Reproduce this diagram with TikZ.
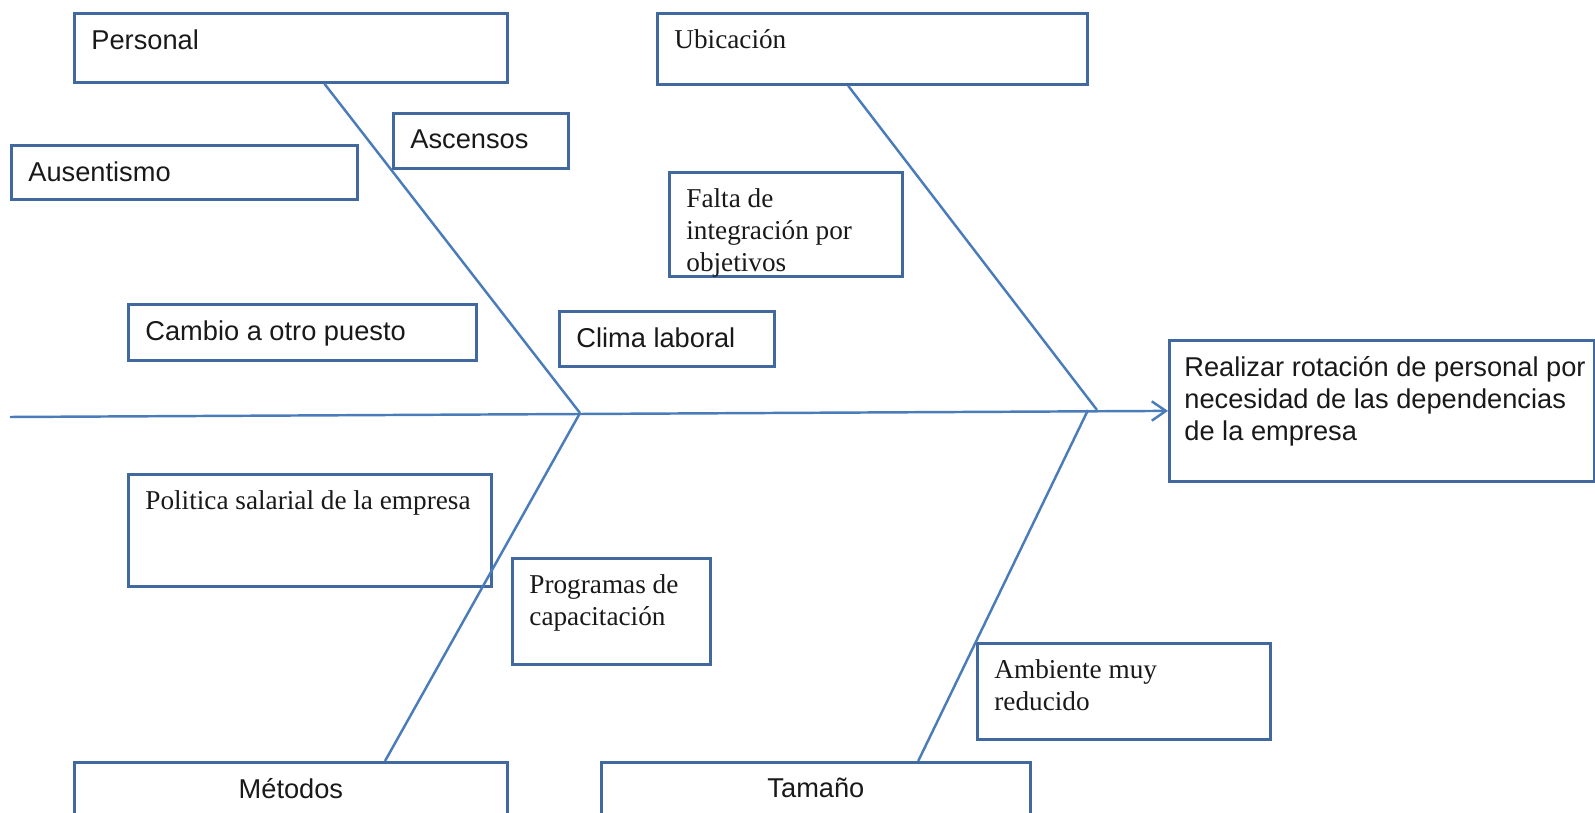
\documentclass[tikz,border=0pt]{standalone}
\usepackage{fontspec}
\setmainfont{Liberation Serif}
\setsansfont{Liberation Sans}
\usetikzlibrary{arrows.meta}
\usetikzlibrary{calc}

\definecolor{bordecaja}{RGB}{66,104,160}
\definecolor{lineaazul}{RGB}{74,124,186}

\newdimen\pix
\pix=0.02cm
% caja de texto: ancho y alto totales en px, texto arriba a la izquierda
\newcommand{\caja}[3]{\parbox[c][\dimexpr#2\pix-32\pix\relax][t]{\dimexpr#1\pix-34\pix\relax}{\raggedright #3}}

\begin{document}
\begin{tikzpicture}[x=0.02cm,y=-0.02cm,
    caja/.style={draw=bordecaja,line width=1.6pt,anchor=north west,inner xsep=0.34cm,inner ysep=0.32cm,text=black!90},
    arial/.style={font=\sffamily\fontsize{15.5}{18.2}\selectfont},
    times/.style={font=\rmfamily\fontsize{15.5}{18.2}\selectfont},
    linea/.style={draw=lineaazul,line width=1.4pt},
    flecha/.style={linea,-{Straight Barb[length=8pt,width=11pt]}}]

\useasboundingbox (0,0) rectangle (1595,813);

% causas
\node[caja,arial] (personal) at (73,12) {\caja{433}{69}{Personal}};
\node[caja,times] (ubicacion) at (656,12) {\caja{430}{71}{Ubicación}};
\node[caja,arial] (ascensos) at (392,112) {\caja{175}{55}{Ascensos}};
\node[caja,arial] (ausentismo) at (10,144) {\caja{346}{54}{Ausentismo}};
\node[caja,times] (falta) at (668,171) {\caja{233}{104}{Falta de\\ integración por\\ objetivos}};
\node[caja,arial] (cambio) at (127,303) {\caja{348}{56}{Cambio a otro puesto}};
\node[caja,arial] (clima) at (558,310) {\caja{215}{55}{Clima laboral}};
\node[caja,times] (politica) at (127,473) {\caja{363}{112}{Politica salarial de la empresa}};
\node[caja,times] (programas) at (511,557) {\caja{198}{106}{Programas de\\ capacitación}};
\node[caja,times] (ambiente) at (976,642) {\caja{293}{96}{Ambiente muy\\ reducido}};
\node[caja,arial] (metodos) at (73,761) {\caja{433}{80}{\centering Métodos}};
\node[caja,arial] (tamano) at (600,761) {\caja{429}{80}{\centering Tamaño}};

% efecto
\node[caja,arial,inner xsep=0.3cm] (efecto) at (1168,339) {\caja{429}{141}{\mbox{Realizar rotación de personal por}\\ \mbox{necesidad de las dependencias}\\ de la empresa}};

% espina y ramas
\coordinate (espina) at (10,417);
\coordinate (uA) at (580,413);
\coordinate (uB) at (1097,410);
\coordinate (uC) at (1088,410);

\draw[flecha] (espina) -- (efecto.west);
\draw[linea] ($(personal.south west)!.577!(personal.south east)$) -- (uA);
\draw[linea] (uA) -- ($(metodos.north west)!.716!(metodos.north east)$);
\draw[linea] ($(ubicacion.south west)!.444!(ubicacion.south east)$) -- (uB);
\draw[linea] (uC) -- ($(tamano.north west)!.737!(tamano.north east)$);
\end{tikzpicture}
\end{document}
